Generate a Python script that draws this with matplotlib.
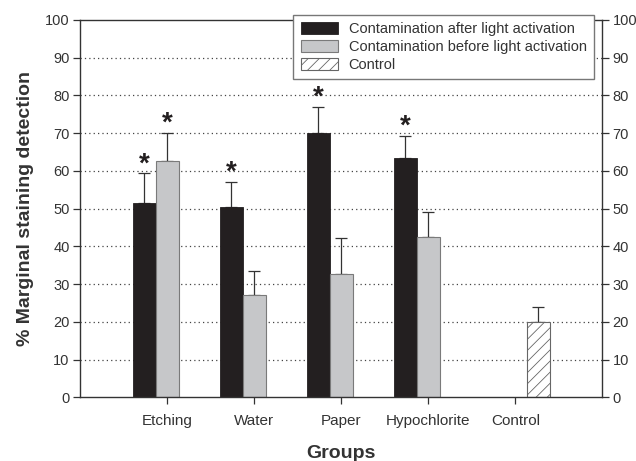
import numpy as np
import matplotlib.pyplot as plt

plt.rcParams['font.family'] = ['Liberation Sans', 'DejaVu Sans']

groups = ['Etching', 'Water', 'Paper', 'Hypochlorite', 'Control']
after_vals = [51.6, 50.4, 70.0, 63.3, np.nan]
after_err = [7.7, 6.6, 7.0, 5.9, np.nan]
before_vals = [62.7, 27.2, 32.8, 42.6, np.nan]
before_err = [7.3, 6.4, 9.5, 6.4, np.nan]
control_vals = [np.nan, np.nan, np.nan, np.nan, 20.0]
control_err = [np.nan, np.nan, np.nan, np.nan, 4.0]
stars_after = [True, True, True, True, False]
stars_before = [True, False, False, False, False]

txt = '#333333'
x = np.arange(len(groups))
w = 0.265

fig = plt.figure(figsize=(6.36, 4.61), dpi=100)
ax = fig.add_axes([0.126, 0.138, 0.821, 0.819])

for yv in range(10, 100, 10):
    ax.axhline(yv, color='#444444', linestyle=(0, (1, 2.5)), linewidth=0.9, zorder=0)

ekw = dict(ecolor='#333333', elinewidth=0.9, capsize=4.5, capthick=0.9)
ax.bar(x - w, after_vals, w, color='#231f20', edgecolor='#231f20', linewidth=0.6,
       label='Contamination after light activation', zorder=2)
ax.errorbar(x - w, after_vals, yerr=[np.zeros(5), after_err], fmt='none', zorder=1, **ekw)
ax.bar(x, before_vals, w, color='#c6c7c9', edgecolor='#7a7a7a', linewidth=0.8,
       label='Contamination before light activation', zorder=2)
ax.errorbar(x, before_vals, yerr=[np.zeros(5), before_err], fmt='none', zorder=1, **ekw)
plt.rcParams['hatch.color'] = '#555555'
plt.rcParams['hatch.linewidth'] = 0.6
ax.bar(x + w, control_vals, w, color='white', edgecolor='#666666', linewidth=0.8,
       hatch='///', label='Control', zorder=2)
ax.errorbar(x + w, control_vals, yerr=[np.zeros(5), control_err], fmt='none', zorder=1, **ekw)

for i in range(len(groups)):
    if stars_after[i]:
        ax.text(x[i] - w, after_vals[i] + after_err[i] - 1.0, '*', ha='center', va='bottom',
                fontsize=20, fontweight='bold', color='#231f20')
    if stars_before[i]:
        ax.text(x[i], before_vals[i] + before_err[i] - 1.0, '*', ha='center', va='bottom',
                fontsize=20, fontweight='bold', color='#231f20')

ax.set_xlim(-1, 5)
ax.set_ylim(0, 100)
ax.set_yticks(range(0, 101, 10))
ax.set_xticks(x)
ax.set_xticklabels(groups)
ax.tick_params(axis='y', which='both', left=True, right=True, labelleft=True, labelright=True,
               direction='out', length=5, width=0.9, colors='#333333', labelsize=10.5, pad=2.5)
ax.tick_params(axis='x', direction='out', length=5, width=0.9, colors='#333333', labelsize=11, pad=7)
for s in ax.spines.values():
    s.set_color('#333333')
    s.set_linewidth(1.0)

ax.set_ylabel('% Marginal staining detection', fontsize=14, fontweight='bold', color=txt, labelpad=8)
ax.set_xlabel('Groups', fontsize=14, fontweight='bold', color=txt, labelpad=12)

leg = ax.legend(loc='upper right', bbox_to_anchor=(0.984, 1.013), fontsize=10.5, frameon=True,
                fancybox=False, framealpha=1, edgecolor='#777777', borderpad=0.5,
                handlelength=2.6, handleheight=0.9, labelspacing=0.25, handletextpad=0.7,
                borderaxespad=0)
for t in leg.get_texts():
    t.set_color(txt)
leg.set_zorder(5)

fig.savefig('out.png', dpi=100)
